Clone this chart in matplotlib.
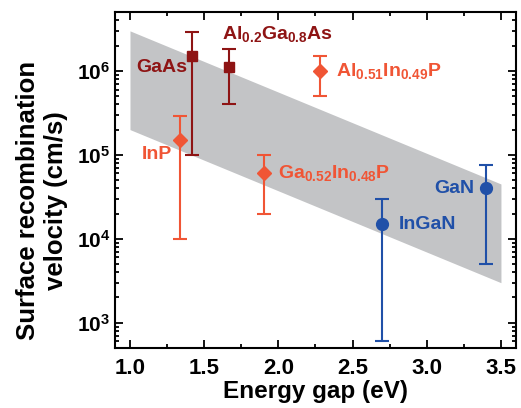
import numpy as np
import matplotlib
matplotlib.use("Agg")
import matplotlib.pyplot as plt
from matplotlib.ticker import LogLocator, MultipleLocator, NullFormatter, FormatStrFormatter

plt.rcParams['font.family'] = ['Liberation Sans', 'DejaVu Sans']
plt.rcParams['font.weight'] = 'bold'
plt.rcParams['mathtext.fontset'] = 'custom'
plt.rcParams['mathtext.rm'] = 'Liberation Sans:bold'
plt.rcParams['mathtext.default'] = 'rm'

# band of surface recombination velocity
band_x = [1.0, 3.5]
band_hi = [3e6, 4.5e4]
band_lo = [2e5, 3e3]

# arsenides (squares)
as_names = ['GaAs', r'Al$_{0.2}$Ga$_{0.8}$As']
as_eg = [1.42, 1.67]
as_s = [1.5e6, 1.1e6]
as_lo = [1e5, 4e5]
as_hi = [2.9e6, 1.8e6]

# phosphides (diamonds)
p_names = [r'Al$_{0.51}$In$_{0.49}$P', 'InP', r'Ga$_{0.52}$In$_{0.48}$P']
p_eg = [2.28, 1.34, 1.9]
p_s = [1e6, 1.5e5, 6e4]
p_lo = [5e5, 1e4, 2e4]
p_hi = [1.5e6, 2.9e5, 1e5]

# nitrides (circles)
n_names = ['InGaN', 'GaN']
n_eg = [2.7, 3.4]
n_s = [1.5e4, 4e4]
n_lo = [6e2, 5e3]
n_hi = [3e4, 7.5e4]

c_as = '#8e1414'
c_p = '#f05535'
c_n = '#2050a8'

fig, ax = plt.subplots(figsize=(5.21, 4.08), dpi=100)
fig.subplots_adjust(left=0.221, right=0.99, top=0.97, bottom=0.147)

ax.fill_between(band_x, band_lo, band_hi, color='#c3c4c6', lw=0, zorder=1)

def errs(v, lo, hi):
    v = np.array(v); return [v - np.array(lo), np.array(hi) - v]

kw = dict(capsize=5, elinewidth=1.5, capthick=1.5, zorder=3)
ax.errorbar(as_eg, as_s, yerr=errs(as_s, as_lo, as_hi), fmt='s', color=c_as, ms=7.5, **kw)
ax.errorbar(p_eg, p_s, yerr=errs(p_s, p_lo, p_hi), fmt='D', color=c_p, ms=7.5, **kw)
ax.errorbar(n_eg, n_s, yerr=errs(n_s, n_lo, n_hi), fmt='o', color=c_n, ms=8.5, **kw)

fs = 14
ax.text(1.04, 1.1e6, as_names[0], color=c_as, fontsize=fs, va='center')
ax.text(1.62, 2.75e6, as_names[1], color=c_as, fontsize=fs, va='center')
ax.text(2.39, 1.0e6, p_names[0], color=c_p, fontsize=fs, va='center')
ax.text(1.08, 1.0e5, p_names[1], color=c_p, fontsize=fs, va='center')
ax.text(2.0, 6.0e4, p_names[2], color=c_p, fontsize=fs, va='center')
ax.text(2.81, 1.5e4, n_names[0], color=c_n, fontsize=fs, va='center')
ax.text(3.05, 4.0e4, n_names[1], color=c_n, fontsize=fs, va='center')

ax.set_yscale('log')
ax.set_xlim(0.9, 3.6)
ax.set_ylim(5e2, 5e6)
ax.xaxis.set_major_locator(MultipleLocator(0.5))
ax.xaxis.set_minor_locator(MultipleLocator(0.25))
ax.yaxis.set_major_locator(LogLocator(base=10, numticks=10))
ax.yaxis.set_minor_locator(LogLocator(base=10, subs=np.arange(2, 10), numticks=10))
ax.yaxis.set_minor_formatter(NullFormatter())
ax.xaxis.set_major_formatter(FormatStrFormatter('%.1f'))

ax.tick_params(which='both', direction='in', top=True, right=True, width=1.3)
ax.tick_params(axis='x', labelsize=16, pad=7)
ax.tick_params(axis='y', labelsize=15)
ax.tick_params(which='major', length=6)
ax.tick_params(which='minor', length=3)
for s in ax.spines.values():
    s.set_linewidth(1.5)

ax.set_xlabel('Energy gap (eV)', fontsize=17.5, fontweight='bold', labelpad=1)
ax.set_ylabel('Surface recombination\nvelocity (cm/s)', fontsize=18.5, fontweight='bold',
              linespacing=1.25)
ax.yaxis.set_label_coords(-0.117, 0.44)

fig.savefig('out.png', dpi=100)
